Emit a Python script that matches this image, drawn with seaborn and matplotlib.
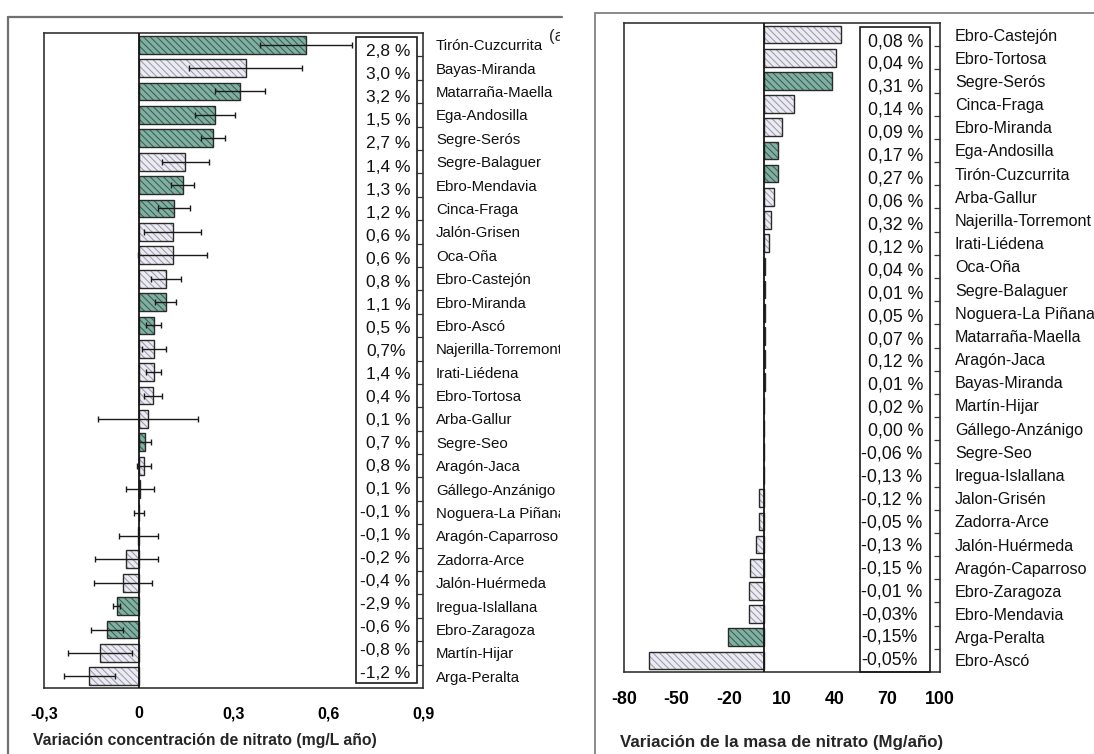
import numpy as np
import pandas as pd
import matplotlib
matplotlib.use("Agg")
import matplotlib.pyplot as plt
import seaborn as sns
from matplotlib.patches import Rectangle
from matplotlib.lines import Line2D
from matplotlib.transforms import Bbox, TransformedBbox, blended_transform_factory

# ---------------- data: nitrate concentration trend (left panel) ----------------
conc_sites = ["Tirón-Cuzcurrita", "Bayas-Miranda", "Matarraña-Maella", "Ega-Andosilla",
              "Segre-Serós", "Segre-Balaguer", "Ebro-Mendavia", "Cinca-Fraga",
              "Jalón-Grisen", "Oca-Oña", "Ebro-Castejón", "Ebro-Miranda", "Ebro-Ascó",
              "Najerilla-Torremont", "Irati-Liédena", "Ebro-Tortosa", "Arba-Gallur",
              "Segre-Seo", "Aragón-Jaca", "Gállego-Anzánigo", "Noguera-La Piñana",
              "Aragón-Caparroso", "Zadorra-Arce", "Jalón-Huérmeda", "Iregua-Islallana",
              "Ebro-Zaragoza", "Martín-Hijar", "Arga-Peralta"]
conc_values = [0.530, 0.338, 0.321, 0.242, 0.235, 0.147, 0.139, 0.111, 0.107, 0.107,
               0.087, 0.085, 0.047, 0.047, 0.047, 0.045, 0.030, 0.020, 0.017, 0.003,
               0.001, -0.001, -0.039, -0.051, -0.070, -0.101, -0.122, -0.156]
conc_err = [0.145, 0.178, 0.079, 0.064, 0.037, 0.074, 0.037, 0.051, 0.089, 0.110,
            0.048, 0.032, 0.025, 0.038, 0.025, 0.029, 0.158, 0.019, 0.021, 0.044,
            0.016, 0.061, 0.099, 0.092, 0.010, 0.050, 0.101, 0.081]
conc_sig = [True, False, True, True, True, False, True, True, False, False,
            False, True, True, False, False, False, False, True, False, False,
            False, False, False, False, True, True, False, False]
conc_pct = ["2,8 %", "3,0 %", "3,2 %", "1,5 %", "2,7 %", "1,4 %", "1,3 %", "1,2 %",
            "0,6 %", "0,6 %", "0,8 %", "1,1 %", "0,5 %", "0,7%", "1,4 %", "0,4 %",
            "0,1 %", "0,7 %", "0,8 %", "0,1 %", "-0,1 %", "-0,1 %", "-0,2 %", "-0,4 %",
            "-2,9 %", "-0,6 %", "-0,8 %", "-1,2 %"]
conc_ticks = [-0.3, 0, 0.3, 0.6, 0.9]
conc_ticklabels = ["-0,3", "0", "0,3", "0,6", "0,9"]
conc_xlabel = "Variación concentración de nitrato (mg/L año)"

# ---------------- data: nitrate mass trend (right panel) ----------------
mass_sites = ["Ebro-Castejón", "Ebro-Tortosa", "Segre-Serós", "Cinca-Fraga", "Ebro-Miranda",
              "Ega-Andosilla", "Tirón-Cuzcurrita", "Arba-Gallur", "Najerilla-Torremont",
              "Irati-Liédena", "Oca-Oña", "Segre-Balaguer", "Noguera-La Piñana",
              "Matarraña-Maella", "Aragón-Jaca", "Bayas-Miranda", "Martín-Hijar",
              "Gállego-Anzánigo", "Segre-Seo", "Iregua-Islallana", "Jalon-Grisén",
              "Zadorra-Arce", "Jalón-Huérmeda", "Aragón-Caparroso", "Ebro-Zaragoza",
              "Ebro-Mendavia", "Arga-Peralta", "Ebro-Ascó"]
mass_values = [43.5, 41.0, 38.5, 17.0, 10.0, 7.5, 7.5, 5.5, 4.0, 2.8,
               0.5, 0.3, 0.2, 0.2, 0.1, 0.1, -0.3, -0.3, -0.4, -0.5,
               -3.0, -3.0, -5.0, -8.3, -8.8, -8.8, -20.5, -65.5]
mass_sig = [False, False, True, False, False, True, True, False, False, False,
            False, False, False, False, False, False, False, False, False, False,
            False, False, False, False, False, False, True, False]
mass_pct = ["0,08 %", "0,04 %", "0,31 %", "0,14 %", "0,09 %", "0,17 %", "0,27 %", "0,06 %",
            "0,32 %", "0,12 %", "0,04 %", "0,01 %", "0,05 %", "0,07 %", "0,12 %", "0,01 %",
            "0,02 %", "0,00 %", "-0,06 %", "-0,13 %", "-0,12 %", "-0,05 %", "-0,13 %",
            "-0,15 %", "-0,01 %", "-0,03%", "-0,15%", "-0,05%"]
mass_ticks = [-80, -50, -20, 10, 40, 70, 100]
mass_ticklabels = ["-80", "-50", "-20", "10", "40", "70", "100"]
mass_xlabel = "Variación de la masa de nitrato (Mg/año)"

# ---------------- style ----------------
sns.set_style("white")
plt.rcParams["font.family"] = ["Liberation Sans", "DejaVu Sans"]
plt.rcParams["hatch.linewidth"] = 0.75

W, H = 1094, 754
GREEN_FACE, GREEN_HATCH = "#7db5a3", "#2b6353"
GRAY_FACE, GRAY_HATCH = "#eaeaf2", "#9a9ab0"
DARK = "#2a2a2a"

fig = plt.figure(figsize=(W / 100, H / 100), dpi=100)
ax1 = fig.add_axes([44 / W, 1 - 688 / H, 379 / W, 655 / H])
ax2 = fig.add_axes([624 / W, 1 - 672 / H, 316 / W, 649 / H])


def draw_bars(ax, sites, values, sig):
    df = pd.DataFrame({"site": sites, "value": values,
                       "grp": ["sig" if s else "ns" for s in sig]})
    sns.barplot(data=df, x="value", y="site", hue="grp", hue_order=["sig", "ns"],
                palette={"sig": GREEN_FACE, "ns": GRAY_FACE}, orient="h",
                dodge=False, width=0.76, errorbar=None, legend=False, ax=ax)
    for cont, hc in zip(ax.containers, [GREEN_HATCH, GRAY_HATCH]):
        for p in cont:
            p.set_hatch("\\\\\\\\\\")
            p.set_edgecolor(hc)
            p.set_linewidth(0)
    sns.barplot(data=df, x="value", y="site", orient="h", fill=False, color=DARK,
                linewidth=1.0, width=0.76, errorbar=None, ax=ax)
    ax.axvline(0, color="#151515", lw=1.3, zorder=4)


def style_panel(ax, n, xlim, ticks, ticklabels, tick_fs, label_fs, ypad, xpad):
    ax.set_xlim(*xlim)
    ax.set_ylim(n - 0.5, -0.5)
    ax.set_xticks(ticks)
    ax.set_xticklabels(ticklabels, fontweight="bold", fontsize=tick_fs)
    ax.tick_params(axis="x", direction="in", length=4, width=0.9, pad=xpad,
                   color="#333333", labelcolor="black")
    ax.yaxis.tick_right()
    ax.tick_params(axis="y", which="major", length=0, pad=ypad, labelsize=label_fs,
                   labelright=True, labelleft=False, labelcolor="#111111")
    ax.set_yticks(np.arange(0.5, n - 1, 1), minor=True)
    ax.tick_params(axis="y", which="minor", direction="in", length=4, width=0.9,
                   right=True, left=False, color="#333333")
    ax.set_xlabel("")
    ax.set_ylabel("")
    for s in ax.spines.values():
        s.set_color("#333333")
        s.set_linewidth(1.2)


def pct_box(ax, pct, box, xpos, xneg, ytop, ybot, fs):
    x0, x1, y0, y1 = box
    ax.add_patch(Rectangle((x0, y0), x1 - x0, y1 - y0, transform=ax.transAxes,
                           fill=False, ec="#1a1a1a", lw=1.2, clip_on=False, zorder=5))
    tr = blended_transform_factory(ax.transAxes, ax.transData)
    for txt, yy in zip(pct, np.linspace(ytop, ybot, len(pct))):
        xx = xneg if txt.startswith("-") else xpos
        ax.text(xx, yy, txt, transform=tr, ha="left", va="center", fontsize=fs,
                color="#111111", zorder=6)


# left panel
draw_bars(ax1, conc_sites, conc_values, conc_sig)
ax1.errorbar(conc_values, np.arange(len(conc_values)), xerr=conc_err, fmt="none",
             ecolor="#1a1a1a", elinewidth=1.0, capsize=2.5, capthick=1.0, zorder=5)
style_panel(ax1, len(conc_sites), (-0.3, 0.9), conc_ticks, conc_ticklabels,
            11.5, 10.8, 9.4, 13.0)
pct_box(ax1, conc_pct, (0.823, 0.984, 0.0076, 0.994), 0.850, 0.835, 0.31, 26.87, 12.5)

# right panel
draw_bars(ax2, mass_sites, mass_values, mass_sig)
style_panel(ax2, len(mass_sites), (-80, 100), mass_ticks, mass_ticklabels,
            12.8, 11.6, 10.8, 14.0)
pct_box(ax2, mass_pct, (0.747, 0.967, 0.0, 0.994), 0.772, 0.750, 0.30, 27.0, 12.8)

# the left panel is cut at its right edge in the source picture
left_clip = TransformedBbox(Bbox([[0, 0], [560 / W, 1]]), fig.transFigure)
for lab in ax1.get_yticklabels():
    lab.set_clip_box(left_clip)
    lab.set_clip_on(True)

# axis titles
fig.text(33 / W, 1 - 741 / H, conc_xlabel, fontsize=11.3, fontweight="bold",
         ha="left", va="center")
fig.text(620 / W, 1 - 743 / H, mass_xlabel, fontsize=12.2, fontweight="bold",
         ha="left", va="center")

# outer panel frames
fc = "#707070"
fig.add_artist(Line2D([8 / W, 562 / W], [1 - 17 / H] * 2, color=fc, lw=1.6,
                      transform=fig.transFigure))
fig.add_artist(Line2D([8 / W] * 2, [1 - 17 / H, 0], color=fc, lw=1.6,
                      transform=fig.transFigure))
fig.add_artist(Line2D([595 / W, 1.0], [1 - 13 / H] * 2, color="#8a8a8a", lw=1.4,
                      transform=fig.transFigure))
fig.add_artist(Line2D([595 / W] * 2, [1 - 13 / H, 0], color="#8a8a8a", lw=1.4,
                      transform=fig.transFigure))

# panel tag, cut by the panel edge as in the source
tag = fig.text(549 / W, 1 - 37 / H, "(a)", fontsize=12, ha="left", va="center")
tag.set_clip_box(left_clip)
tag.set_clip_on(True)

fig.savefig("out.png", dpi=100)
